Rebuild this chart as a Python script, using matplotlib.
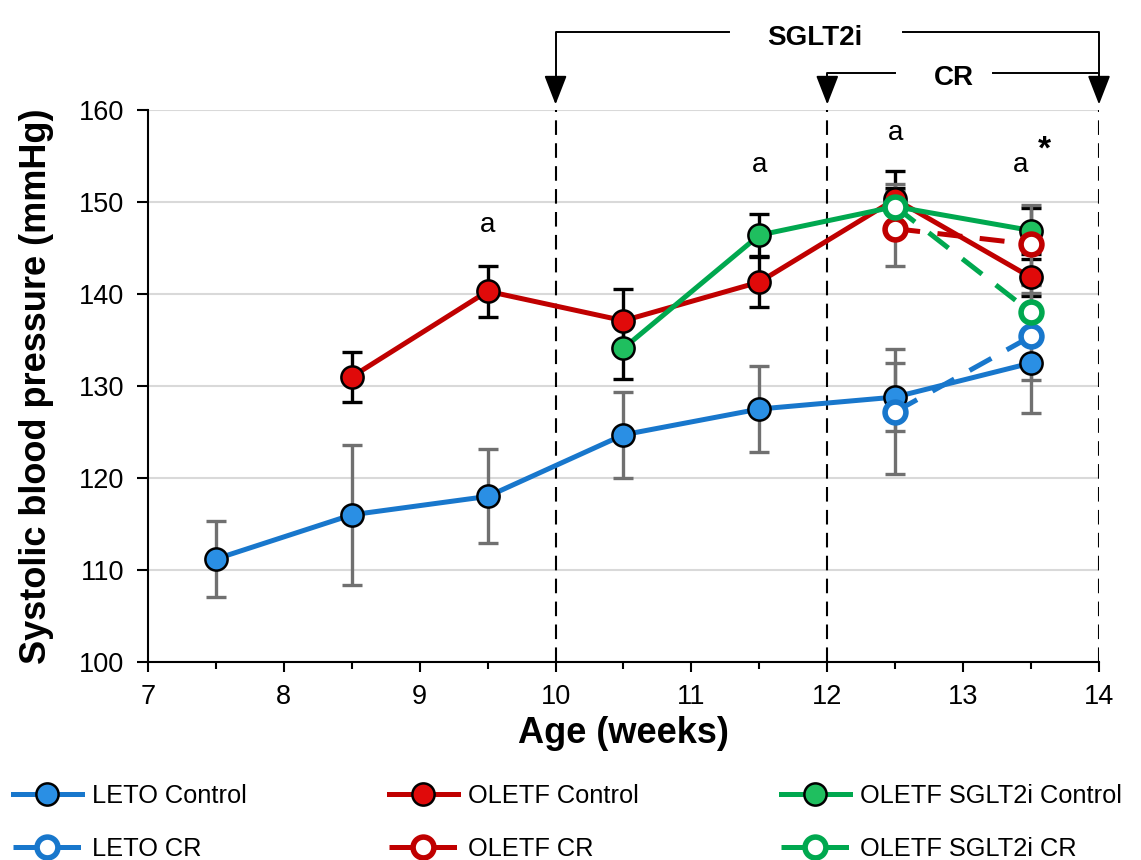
import matplotlib
matplotlib.use("Agg")
import matplotlib.pyplot as plt
from matplotlib.ticker import MultipleLocator

plt.rcParams["font.family"] = ["Liberation Sans", "DejaVu Sans"]

# ---- data ------------------------------------------------------------------
leto_x = [7.5, 8.5, 9.5, 10.5, 11.5, 12.5, 13.5]
leto_ctrl = [111.2, 116.0, 118.0, 124.7, 127.5, 128.8, 132.5]
leto_ctrl_err = [4.1, 7.6, 5.1, 4.7, 4.7, 3.7, 5.4]

oletf_x = [8.5, 9.5, 10.5, 11.5, 12.5, 13.5]
oletf_ctrl = [131.0, 140.3, 137.1, 141.3, 150.3, 141.8]
oletf_ctrl_err = [2.7, 2.75, 3.4, 2.7, 3.1, 2.0]

sglt_x = [10.5, 11.5, 12.5, 13.5]
sglt_ctrl = [134.1, 146.4, 149.5, 146.9]
sglt_ctrl_err = [3.3, 2.3, 2.0, 2.5]

cr_x = [12.5, 13.5]
leto_cr = [127.2, 135.4]
leto_cr_err = [6.8, 4.7]
oletf_cr = [147.1, 145.4]
oletf_cr_err = [4.1, 4.3]
sglt_cr = [149.5, 138.0]
sglt_cr_err = [2.5, 3.0]

sig_x = [9.5, 11.5, 12.5, 13.42]
sig_y = [147.5, 154.0, 157.5, 154.0]

BLUE = "#1877cc"
RED = "#c00000"
GREEN = "#00a84f"
BLUE_F = "#2a8fe4"
RED_F = "#e00a0a"
GREEN_F = "#1fbf5f"
GREY = "#707070"

fig = plt.figure(figsize=(11.41, 8.6), dpi=100)
ax = fig.add_axes([0.1297, 0.2302, 0.8335, 0.6419])

ekw = dict(fmt="none", elinewidth=2.4, capsize=7, capthick=2.4, zorder=2)
ax.errorbar(leto_x, leto_ctrl, yerr=leto_ctrl_err, ecolor=GREY, **ekw)
ax.errorbar(oletf_x, oletf_ctrl, yerr=oletf_ctrl_err, ecolor="black", **ekw)
ax.errorbar(sglt_x, sglt_ctrl, yerr=sglt_ctrl_err, ecolor="black", **ekw)
ax.errorbar(cr_x, leto_cr, yerr=leto_cr_err, ecolor=GREY, **ekw)
ax.errorbar(cr_x, oletf_cr, yerr=oletf_cr_err, ecolor=GREY, **ekw)
ax.errorbar(cr_x, sglt_cr, yerr=sglt_cr_err, ecolor=GREY, **ekw)

lkw = dict(lw=3.6, marker="o", ms=16, mec="black", mew=1.8, zorder=3)
h1, = ax.plot(leto_x, leto_ctrl, color=BLUE, mfc=BLUE_F, label="LETO Control", **lkw)
h3, = ax.plot(oletf_x, oletf_ctrl, color=RED, mfc=RED_F, label="OLETF Control", **lkw)
h5, = ax.plot(sglt_x, sglt_ctrl, color=GREEN, mfc=GREEN_F, label="OLETF SGLT2i Control", **lkw)

ckw = dict(lw=3.6, ls=(0, (5, 3.5)), marker="o", ms=15, mfc="white", mew=4, zorder=4)
h2, = ax.plot(cr_x, leto_cr, color=BLUE, mec=BLUE, label="LETO CR", **ckw)
h4, = ax.plot(cr_x, oletf_cr, color=RED, mec=RED, label="OLETF CR", **ckw)
h6, = ax.plot(cr_x, sglt_cr, color=GREEN, mec=GREEN, label="OLETF SGLT2i CR", **ckw)

for x, y in zip(sig_x, sig_y):
    ax.text(x, y, "a", ha="center", va="center", fontsize=20)
ax.text(13.6, 155.6, "*", ha="center", va="center", fontsize=24, fontweight="bold")

# treatment windows
for xv in (10, 12, 14):
    ax.plot([xv, xv], [100, 160], color="black", lw=1.5, ls=(0, (7, 4)), zorder=1)

bkw = dict(color="black", lw=1.4, clip_on=False)
ax.plot([10, 10, 11.28], [162, 168.5, 168.5], **bkw)
ax.plot([12.56, 14, 14], [168.5, 168.5, 162], **bkw)
ax.plot([12, 12, 12.5], [162, 164.0, 164.0], **bkw)
ax.plot([13.22, 14], [164.0, 164.0], **bkw)
akw = dict(arrowstyle="-|>,head_length=0.9,head_width=0.35", color="black", lw=1.4,
           shrinkA=0, shrinkB=0, mutation_scale=20)
for xv, ytop in ((10, 162.5), (12, 162.5), (14, 162.5)):
    ax.annotate("", xy=(xv, 160.6), xytext=(xv, ytop), arrowprops=akw, annotation_clip=False)
ax.text(11.91, 167.8, "SGLT2i", ha="center", va="center", fontsize=20, fontweight="bold")
ax.text(12.93, 163.5, "CR", ha="center", va="center", fontsize=20, fontweight="bold")

ax.set_xlim(7, 14)
ax.set_ylim(100, 160)
ax.xaxis.set_major_locator(MultipleLocator(1))
ax.xaxis.set_minor_locator(MultipleLocator(0.5))
ax.yaxis.set_major_locator(MultipleLocator(10))
ax.tick_params(axis="both", direction="out", labelsize=19.5, width=1.5, pad=9)
ax.tick_params(axis="x", which="major", length=7)
ax.tick_params(axis="x", which="minor", length=5, width=1.5)
ax.tick_params(axis="y", length=8)
ax.grid(axis="y", color="#d9d9d9", lw=1.5, zorder=0)
ax.set_axisbelow(True)
for s in ("top", "right"):
    ax.spines[s].set_visible(False)
for s in ("left", "bottom"):
    ax.spines[s].set_linewidth(1.5)

ax.set_xlabel("Age (weeks)", fontsize=26, fontweight="bold", labelpad=4)
ax.set_ylabel("Systolic blood pressure (mmHg)", fontsize=26, fontweight="bold", labelpad=18)

fig.legend(handles=[h1, h2, h3, h4, h5, h6], ncol=3, loc="upper left",
           bbox_to_anchor=(13 / 1141, 1 - 784 / 860), frameon=False, fontsize=18.3,
           handlelength=2.7, handletextpad=0.4, columnspacing=5.6, labelspacing=1.15,
           borderpad=0, borderaxespad=0)

fig.savefig("out.png", dpi=100)
